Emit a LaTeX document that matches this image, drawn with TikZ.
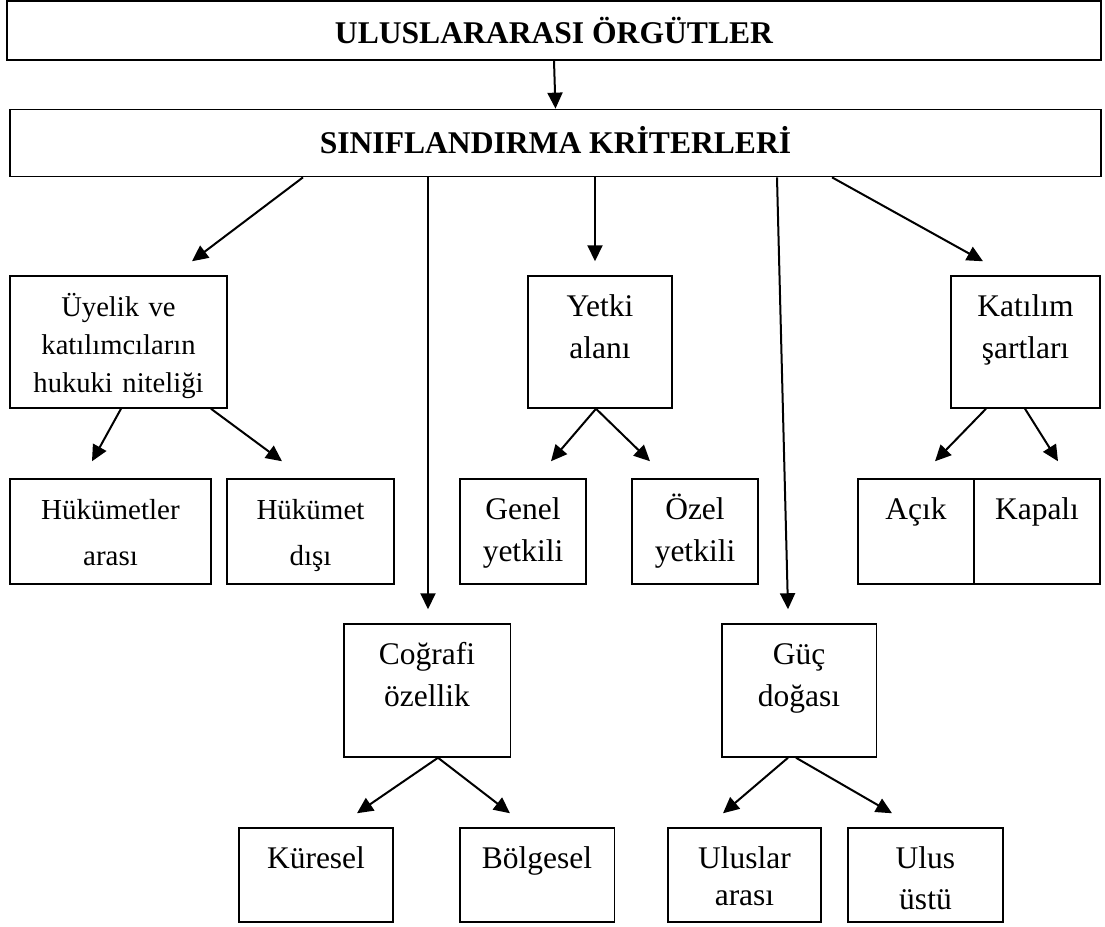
\documentclass[tikz,border=0pt]{standalone}
\usepackage{fontspec}
\setmainfont{Liberation Serif}
\usetikzlibrary{arrows.meta, calc}

\begin{document}
\begin{tikzpicture}[
  x=0.5pt, y=-0.5pt,
  >={Triangle[length=8pt, width=7.5pt]},
  every node/.style={font=\fontsize{15.75}{21}\selectfont},
  baslik/.style={draw, line width=0.85pt, inner sep=0pt, font=\bfseries\fontsize{15.8}{19}\selectfont},
  kutu/.style={draw, line width=0.75pt, inner sep=0pt, align=center, text height=20pt},
  ust/.style={kutu, text depth=46pt},
  alt/.style={kutu, text depth=32.5pt},
  orta/.style={kutu, text depth=46.5pt},
  dip/.style={kutu, text depth=27pt},
  ok/.style={->, line width=1pt}
]
\useasboundingbox (0,0) rectangle (1105,927);

% Top boxes
\node[baslik, minimum width=547pt, minimum height=29.5pt] (ana) at (554,30.5) {ULUSLARARASI ÖRGÜTLER};
\node[baslik, minimum width=545.5pt, minimum height=33.5pt, text depth=3pt] (kriter) at (555.5,143) {SINIFLANDIRMA KRİTERLERİ};

% Criteria
\node[ust, text width=108.5pt, font=\fontsize{14.3}{19}\selectfont] (uye) at (118.5,342) {Üyelik ve\\katılımcıların\\hukuki niteliği};
\node[ust, text width=72pt] (yetki) at (600,342) {Yetki\\alanı};
\node[ust, text width=74.5pt] (katilim) at (1025.5,342) {Katılım\\şartları};
\node[orta, text width=83.25pt] (cograf) at (427,690.5) {Coğrafi\\özellik};
\node[orta, text width=77.25pt] (guc) at (799,690.5) {Güç\\doğası};

% Sub types
\node[alt, text width=100.5pt, font=\fontsize{14.5}{23}\selectfont] (hukarasi) at (110.5,531.5) {Hükümetler\\arası};
\node[alt, text width=83.5pt, font=\fontsize{14.5}{23}\selectfont] (hukdisi) at (310.5,531.5) {Hükümet\\dışı};
\node[alt, text width=63pt] (genel) at (523,531.5) {Genel\\yetkili};
\node[alt, text width=63pt] (ozel) at (695,531.5) {Özel\\yetkili};
\node[alt, text width=58pt] (acik) at (916,531.5) {Açık};
\node[alt, text width=63pt] (kapali) at (1037,531.5) {Kapalı};
\node[dip, text width=77pt] (kuresel) at (316,875) {Küresel};
\node[dip, text width=77.25pt] (bolgesel) at (537,875) {Bölgesel};
\node[dip, text width=76.5pt, font=\fontsize{15.75}{18.5}\selectfont] (ulusarasi) at (744.5,875) {Uluslar\\arası};
\node[dip, text width=77.5pt, font=\fontsize{15.75}{20.5}\selectfont] (ulusustu) at (925.5,875) {Ulus\\üstü};

% Arrows from the top
\draw[ok] (ana.south) -- (kriter.north);
\draw[ok] ($(kriter.south)+(-252.5,0)$) -- ($(uye.north)+(73.5,-14)$);
\draw[ok] ($(kriter.south)+(-127.5,0)$) -- ($(cograf.north)+(1,-14)$);
\draw[ok] ($(kriter.south)+(39.5,0)$) -- ($(yetki.north)+(-5,-14)$);
\draw[ok] ($(kriter.south)+(221.5,0)$) -- ($(guc.north)+(-11,-14)$);
\draw[ok] ($(kriter.south)+(276.5,0)$) -- ($(katilim.north)+(-42.5,-14)$);

% Arrows to sub types
\draw[ok] ($(uye.south)+(2.5,0)$) -- ($(hukarasi.north)+(-18.5,-17)$);
\draw[ok] ($(uye.south)+(92.5,0)$) -- ($(hukdisi.north)+(-28.5,-17)$);
\draw[ok] ($(yetki.south)+(-4,0)$) -- ($(genel.north)+(28,-17)$);
\draw[ok] ($(yetki.south)+(-4,0)$) -- ($(ozel.north)+(-45,-17)$);
\draw[ok] ($(katilim.south)+(-39.5,0)$) -- ($(acik.north)+(19,-17)$);
\draw[ok] ($(katilim.south)+(-0.5,0)$) -- ($(kapali.north)+(21,-17)$);
\draw[ok] ($(cograf.south)+(11,0)$) -- ($(kuresel.north)+(41,-14)$);
\draw[ok] ($(cograf.south)+(11,0)$) -- ($(bolgesel.north)+(-27,-14)$);
\draw[ok] ($(guc.south)+(-11,0)$) -- ($(ulusarasi.north)+(-21.5,-14)$);
\draw[ok] ($(guc.south)+(-3,0)$) -- ($(ulusustu.north)+(-33.5,-14)$);

\end{tikzpicture}
\end{document}
